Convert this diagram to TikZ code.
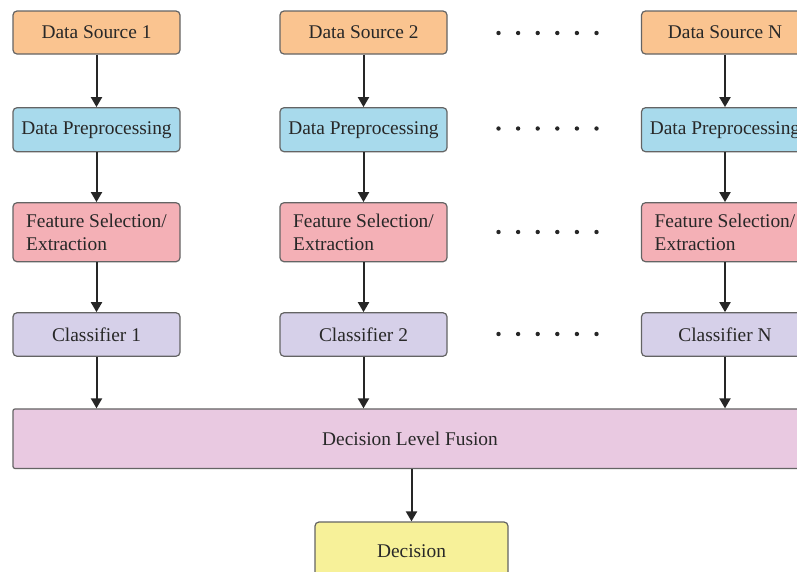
\documentclass[tikz,border=0pt]{standalone}
\usepackage{fontspec}
\setmainfont{Liberation Serif}
\usetikzlibrary{arrows.meta}
\definecolor{cOrange}{RGB}{250,196,144}
\definecolor{cBlue}{RGB}{168,218,236}
\definecolor{cPink}{RGB}{244,176,182}
\definecolor{cLav}{RGB}{214,208,233}
\definecolor{cFus}{RGB}{233,201,225}
\definecolor{cYel}{RGB}{247,241,153}
\definecolor{cBord}{RGB}{100,100,100}
\definecolor{cText}{RGB}{40,40,40}
\tikzset{
  box/.style={draw=cBord, line width=1.2pt, rounded corners=4pt, minimum width=167pt,
    inner sep=0pt, align=left, text=cText, font=\fontsize{19.4}{22.5}\selectfont},
  arr/.style={line width=2pt, draw=black!85, -{Triangle[length=10pt,width=11pt]}},
  dot/.style={fill=black!85, draw=none, circle, minimum size=4.4pt, inner sep=0pt}
}
\begin{document}
\begin{tikzpicture}[x=1pt,y=-1pt]
\useasboundingbox (0,0) rectangle (797,571);
\clip (0,0) rectangle (797,571);
\fill[white] (0,0) rectangle (797,571);
\foreach \c/\x/\n in {1/96.5/1,2/363.5/2,3/725/N}{
  \node[box, fill=cOrange, minimum height=43pt] (s\c) at (\x,32.5) {Data Source \n};
  \node[box, fill=cBlue, minimum height=44pt] (p\c) at (\x,129.7) {Data Preprocessing};
  \node[box, fill=cPink, minimum height=59pt] (f\c) at (\x,232.2) {Feature Selection/\\Extraction};
  \node[box, fill=cLav, minimum height=43.5pt] (k\c) at (\x,334.5) {Classifier \n};
}
\node[box, fill=cFus, minimum width=794pt, minimum height=59.5pt, rounded corners=2pt] (fus) at (410,438.7) {Decision Level Fusion};
\node[box, fill=cYel, minimum width=193pt, minimum height=58pt] (dec) at (411.5,551) {Decision};
\foreach \c in {1,2,3}{
  \draw[arr] (s\c.south) -- (p\c.north);
  \draw[arr] (p\c.south) -- (f\c.north);
  \draw[arr] (f\c.south) -- (k\c.north);
  \draw[arr] (k\c.south) -- (k\c.south |- fus.north);
}
\draw[arr] (dec.north |- fus.south) -- (dec.north);
\foreach \y in {33,128.5,232,334}{
  \foreach \i in {0,...,5}{
    \node[dot] at (498.5+\i*19.6,\y) {};
  }
}
\end{tikzpicture}
\end{document}
